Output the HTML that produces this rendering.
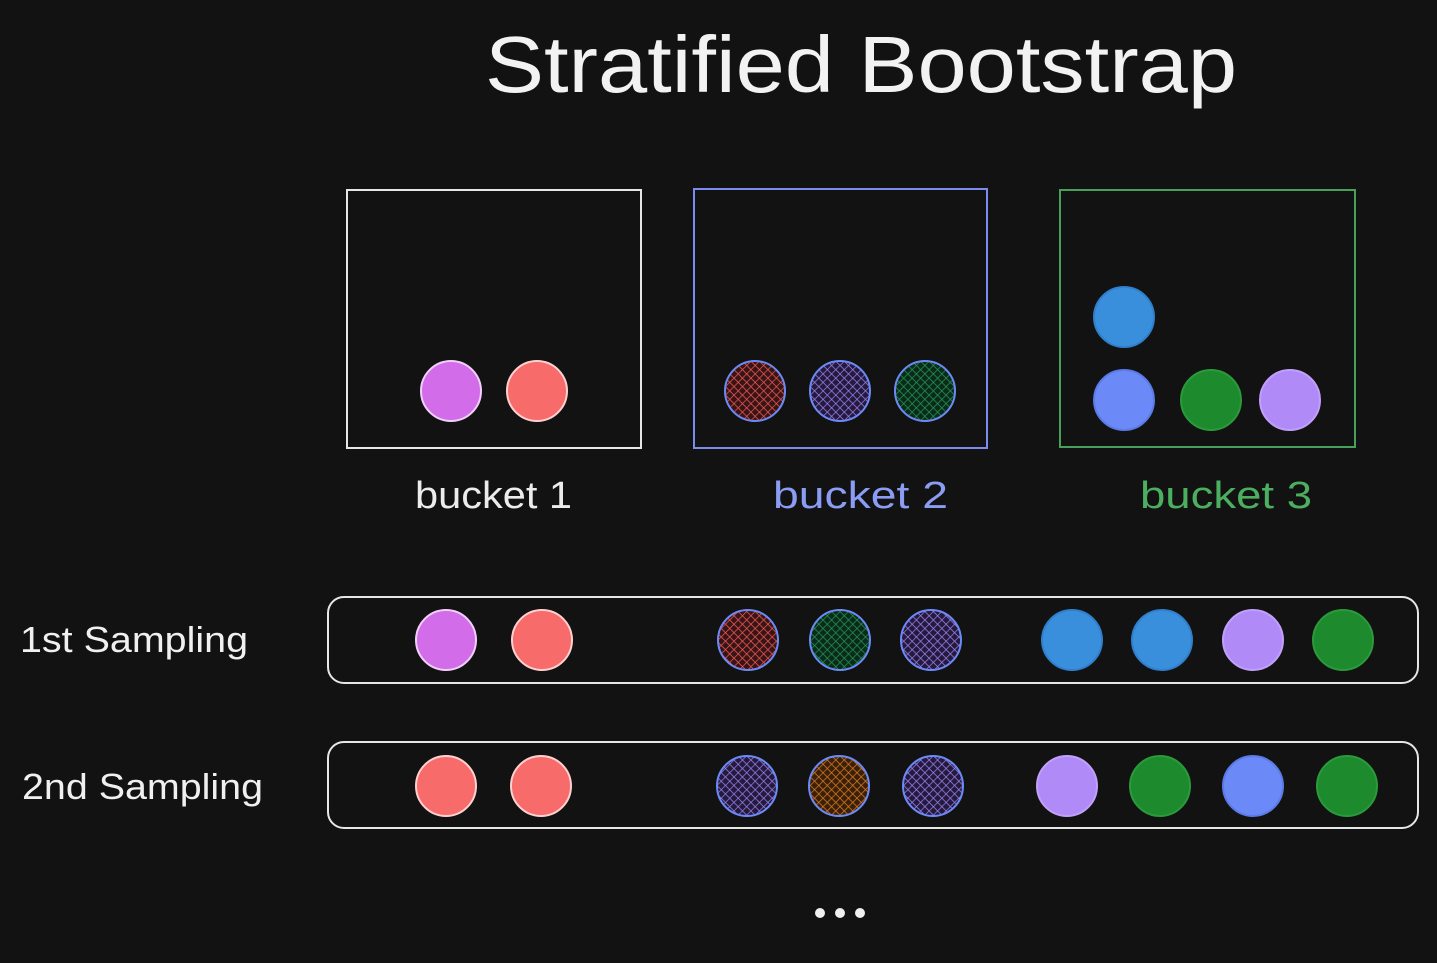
<!DOCTYPE html>
<html><head><meta charset="utf-8"><style>
html,body{margin:0;padding:0;background:#121212;}
svg{display:block;}
text{font-family:"Liberation Sans",sans-serif;}
</style></head><body>
<svg width="1437" height="963" viewBox="0 0 1437 963">
<defs>
<pattern id="hr" width="6" height="6" patternUnits="userSpaceOnUse" patternTransform="rotate(45)"><rect width="6" height="6" fill="#3a1414"/><path d="M0 0V6M0 0H6" stroke="#e85a5a" stroke-width="1.4"/></pattern>
<pattern id="hp" width="6" height="6" patternUnits="userSpaceOnUse" patternTransform="rotate(45)"><rect width="6" height="6" fill="#241a3e"/><path d="M0 0V6M0 0H6" stroke="#a084f0" stroke-width="1.4"/></pattern>
<pattern id="hg" width="6" height="6" patternUnits="userSpaceOnUse" patternTransform="rotate(45)"><rect width="6" height="6" fill="#0c2a1c"/><path d="M0 0V6M0 0H6" stroke="#229a50" stroke-width="1.4"/></pattern>
<pattern id="ho" width="6" height="6" patternUnits="userSpaceOnUse" patternTransform="rotate(45)"><rect width="6" height="6" fill="#3a2008"/><path d="M0 0V6M0 0H6" stroke="#d87a24" stroke-width="1.4"/></pattern>
</defs>
<rect width="1437" height="963" fill="#121212"/>
<text x="485" y="92" textLength="752" lengthAdjust="spacingAndGlyphs" font-size="80" fill="#f2f2f2">Stratified Bootstrap</text>

<rect x="347" y="190" width="294" height="258" fill="none" stroke="#e6e6e6" stroke-width="2"/>
<rect x="694" y="189" width="293" height="259" fill="none" stroke="#7b8cf0" stroke-width="2"/>
<rect x="1060" y="190" width="295" height="257" fill="none" stroke="#46a05a" stroke-width="2"/>

<text x="415" y="508" textLength="157" lengthAdjust="spacingAndGlyphs" font-size="38" fill="#ececec">bucket 1</text>
<text x="773" y="508" textLength="175" lengthAdjust="spacingAndGlyphs" font-size="38" fill="#8b9cf5">bucket 2</text>
<text x="1140" y="508" textLength="172" lengthAdjust="spacingAndGlyphs" font-size="38" fill="#4caf60">bucket 3</text>

<rect x="328" y="597" width="1090" height="86" rx="16" fill="none" stroke="#e6e6e6" stroke-width="2"/>
<rect x="328" y="742" width="1090" height="86" rx="16" fill="none" stroke="#e6e6e6" stroke-width="2"/>
<text x="20" y="652" textLength="228" lengthAdjust="spacingAndGlyphs" font-size="36" fill="#f0f0f0">1st Sampling</text>
<text x="22" y="799" textLength="241" lengthAdjust="spacingAndGlyphs" font-size="36" fill="#f0f0f0">2nd Sampling</text>

<g id="balls"></g>
<circle cx="820" cy="913" r="5" fill="#f0f0f0"/>
<circle cx="840" cy="913" r="5" fill="#f0f0f0"/>
<circle cx="860" cy="913" r="5" fill="#f0f0f0"/>
</svg>
<script>
const fills = {violet:"#d36ce8", red:"#f86b6b", blue:"#3a8fdc", lblue:"#6b8af7", green:"#1e8a2e", purple:"#b08af7",
  hred:"url(#hr)", hpurple:"url(#hp)", hgreen:"url(#hg)", horange:"url(#ho)"};
const strokes = {violet:"#f0d0f8", red:"#ffd0d0", blue:"#2f7fcc", lblue:"#5a7ae8", green:"#2a9a3a", purple:"#c0a0fa",
  hred:"#6b8af7", hpurple:"#6b8af7", hgreen:"#6b8af7", horange:"#6b8af7"};
const ballX = [451,537,755,840,925,1124,1124,1211,1290, 446,542,748,840,931,1072,1162,1253,1343, 446,541,747,839,933,1067,1160,1253,1347];
const ballY = [391,391,391,391,391,317,400,400,400, 640,640,640,640,640,640,640,640,640, 786,786,786,786,786,786,786,786,786];
const ballKind = ["violet","red","hred","hpurple","hgreen","blue","lblue","green","purple",
  "violet","red","hred","hgreen","hpurple","blue","blue","purple","green",
  "red","red","hpurple","horange","hpurple","purple","green","lblue","green"];
const g = document.getElementById('balls');
ballX.forEach((x,i)=>{
  const c = document.createElementNS('http://www.w3.org/2000/svg','circle');
  c.setAttribute('cx', x); c.setAttribute('cy', ballY[i]); c.setAttribute('r', 30);
  c.setAttribute('fill', fills[ballKind[i]]); c.setAttribute('stroke', strokes[ballKind[i]]); c.setAttribute('stroke-width', 2);
  
  
  g.appendChild(c);
});
</script>
</body></html>
